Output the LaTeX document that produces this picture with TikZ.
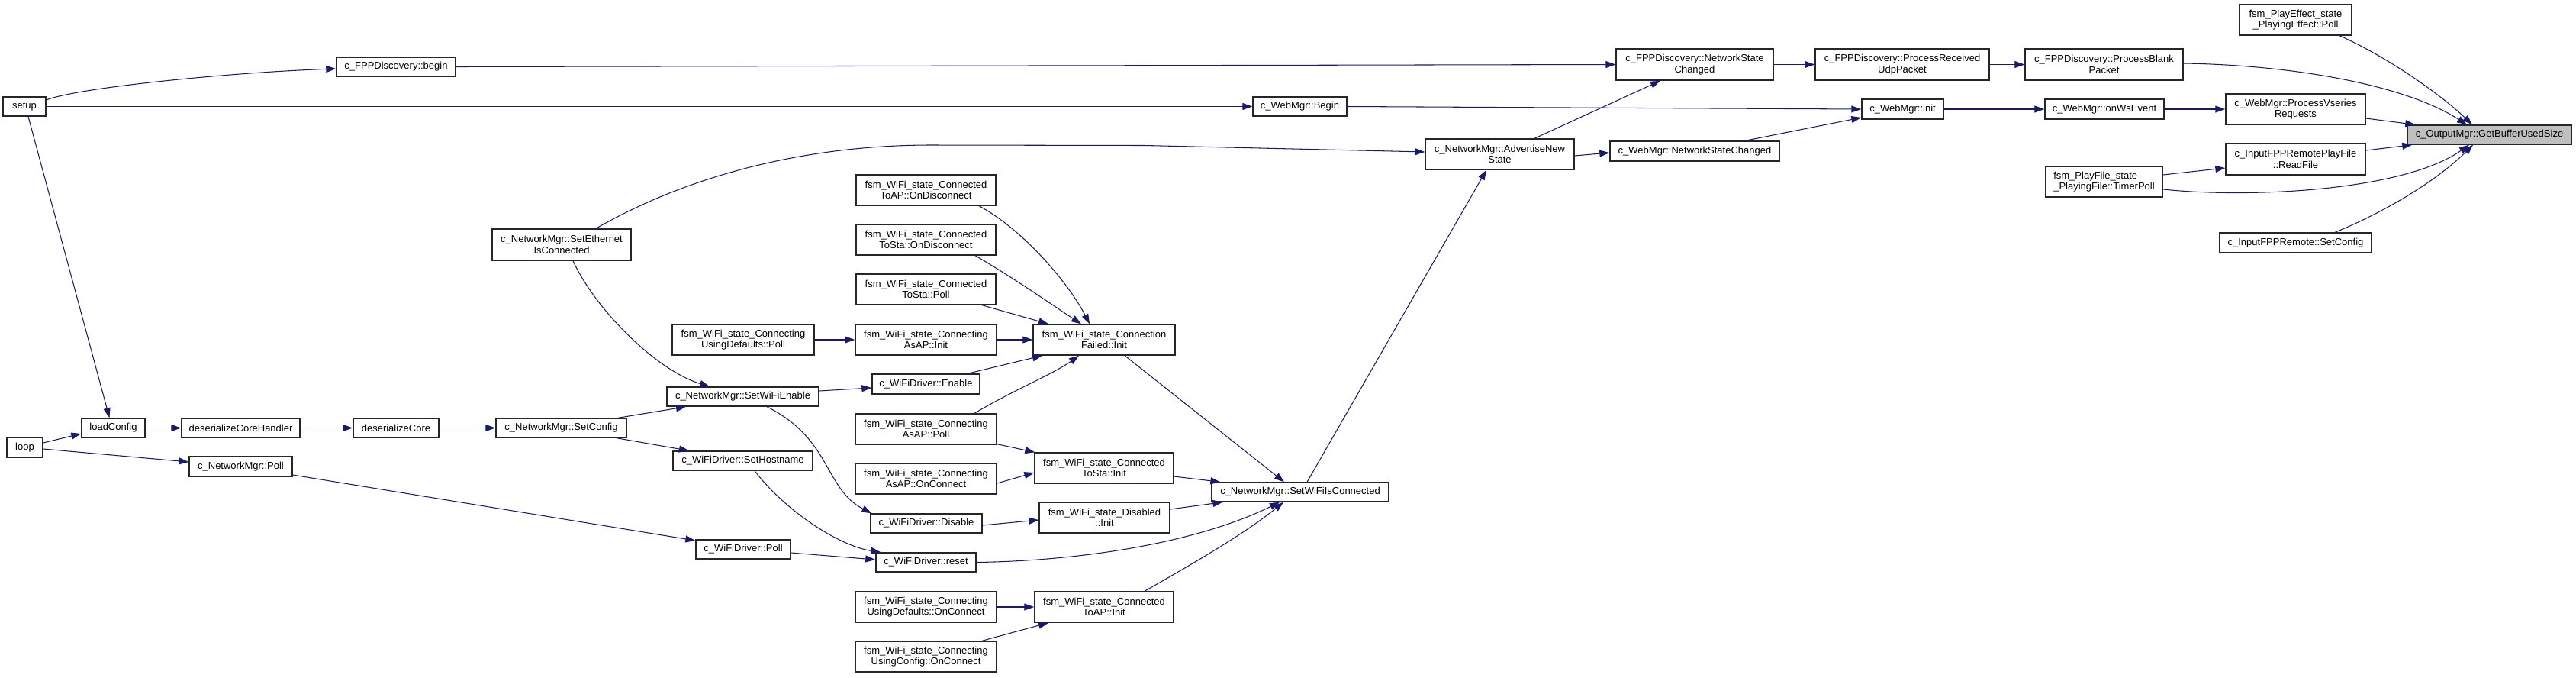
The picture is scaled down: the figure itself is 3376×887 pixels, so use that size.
\documentclass[tikz,border=0pt]{standalone}
\usepackage{fontspec}
\setmainfont{Liberation Sans}
\usetikzlibrary{arrows.meta}
\definecolor{mblue}{RGB}{25,25,112}
\definecolor{tgray}{RGB}{191,191,191}
\begin{document}
\begin{tikzpicture}[x=1pt,y=-1pt,
  box/.style={draw=black!85, line width=1.4pt, fill=white, inner sep=0pt, align=center, font=\fontsize{13}{14.5}\selectfont},
  edge/.style={draw=mblue, line width=1.05pt, -{Triangle[length=13pt,width=9pt]}}]
\fill[white] (0,0) rectangle (3376,887);
\useasboundingbox (0,0) rectangle (3376,887);
% nodes
\node[box, minimum width=56, minimum height=25] (setup) at (32,139.5) {setup};
\node[box, minimum width=156, minimum height=25] (fppbegin) at (519,87.5) {c\_FPPDiscovery::begin};
\node[box, minimum width=47, minimum height=26] (loop) at (32.5,586) {loop};
\node[box, minimum width=83, minimum height=25] (loadConfig) at (148.5,560.5) {loadConfig};
\node[box, minimum width=155, minimum height=25] (dch) at (315.5,560.5) {deserializeCoreHandler};
\node[box, minimum width=112, minimum height=25] (dc) at (519,560.5) {deserializeCore};
\node[box, minimum width=171, minimum height=25] (setconfig) at (735.5,560.5) {c\_NetworkMgr::SetConfig};
\node[box, minimum width=135, minimum height=26] (nmpoll) at (315.5,611) {c\_NetworkMgr::Poll};
\node[box, minimum width=182, minimum height=41] (seteth) at (736,320.5) {c\_NetworkMgr::SetEthernet\\IsConnected};
\node[box, minimum width=199, minimum height=25] (setwifien) at (973.5,519.5) {c\_NetworkMgr::SetWiFiEnable};
\node[box, minimum width=183, minimum height=25] (sethost) at (973.5,603.5) {c\_WiFiDriver::SetHostname};
\node[box, minimum width=124, minimum height=25] (wdpoll) at (974,719.5) {c\_WiFiDriver::Poll};
\node[box, minimum width=186, minimum height=40] (udpoll) at (974,445) {fsm\_WiFi\_state\_Connecting\\UsingDefaults::Poll};
\node[box, minimum width=183, minimum height=40] (toapdisc) at (1213.5,249) {fsm\_WiFi\_state\_Connected\\ToAP::OnDisconnect};
\node[box, minimum width=183, minimum height=40] (tostadisc) at (1213.5,314) {fsm\_WiFi\_state\_Connected\\ToSta::OnDisconnect};
\node[box, minimum width=183, minimum height=40] (tostapoll) at (1213.5,379) {fsm\_WiFi\_state\_Connected\\ToSta::Poll};
\node[box, minimum width=185, minimum height=40] (asapinit) at (1213.5,445) {fsm\_WiFi\_state\_Connecting\\AsAP::Init};
\node[box, minimum width=141, minimum height=26] (enable) at (1213.5,503) {c\_WiFiDriver::Enable};
\node[box, minimum width=185, minimum height=40] (asappoll) at (1213.5,562) {fsm\_WiFi\_state\_Connecting\\AsAP::Poll};
\node[box, minimum width=185, minimum height=40] (asaponconn) at (1213.5,627) {fsm\_WiFi\_state\_Connecting\\AsAP::OnConnect};
\node[box, minimum width=146, minimum height=25] (disable) at (1214,685.5) {c\_WiFiDriver::Disable};
\node[box, minimum width=131, minimum height=25] (reset) at (1213.5,736.5) {c\_WiFiDriver::reset};
\node[box, minimum width=185, minimum height=40] (udonconn) at (1213.5,795) {fsm\_WiFi\_state\_Connecting\\UsingDefaults::OnConnect};
\node[box, minimum width=185, minimum height=40] (uconfonconn) at (1213.5,860) {fsm\_WiFi\_state\_Connecting\\UsingConfig::OnConnect};
\node[box, minimum width=186, minimum height=40] (cfinit) at (1447,445) {fsm\_WiFi\_state\_Connection\\Failed::Init};
\node[box, minimum width=182, minimum height=40] (tostainit) at (1447,613) {fsm\_WiFi\_state\_Connected\\ToSta::Init};
\node[box, minimum width=171, minimum height=40] (disinit) at (1447.5,678) {fsm\_WiFi\_state\_Disabled\\::Init};
\node[box, minimum width=182, minimum height=40] (toapinit) at (1447,795) {fsm\_WiFi\_state\_Connected\\ToAP::Init};
\node[box, minimum width=232, minimum height=25] (setwific) at (1704,644.5) {c\_NetworkMgr::SetWiFiIsConnected};
\node[box, minimum width=195, minimum height=40] (advert) at (1965.5,202) {c\_NetworkMgr::AdvertiseNew\\State};
\node[box, minimum width=123, minimum height=25] (webbegin) at (1703.5,139.5) {c\_WebMgr::Begin};
\node[box, minimum width=206, minimum height=41] (fppnsc) at (2221,84.5) {c\_FPPDiscovery::NetworkState\\Changed};
\node[box, minimum width=222, minimum height=26] (webnsc) at (2221,198) {c\_WebMgr::NetworkStateChanged};
\node[box, minimum width=107, minimum height=26] (webinit) at (2493.5,143) {c\_WebMgr::init};
\node[box, minimum width=228, minimum height=41] (procudp) at (2493,84.5) {c\_FPPDiscovery::ProcessReceived\\UdpPacket};
\node[box, minimum width=207, minimum height=41] (procblank) at (2757.5,84.5) {c\_FPPDiscovery::ProcessBlank\\Packet};
\node[box, minimum width=156, minimum height=26] (onws) at (2758,143) {c\_WebMgr::onWsEvent};
\node[box, minimum width=147, minimum height=40] (playeff) at (3008.5,26) {fsm\_PlayEffect\_state\\\_PlayingEffect::Poll};
\node[box, minimum width=183, minimum height=40] (vseries) at (3008.5,143) {c\_WebMgr::ProcessVseries\\Requests};
\node[box, minimum width=215, minimum height=25, fill=tgray] (gbus) at (3262.5,176.5) {c\_OutputMgr::GetBufferUsedSize};
\node[box, minimum width=183, minimum height=41] (readfile) at (3008.5,208.5) {c\_InputFPPRemotePlayFile\\::ReadFile};
\node[box, minimum width=153, minimum height=40, align=left] (timerpoll) at (2757.5,238) {fsm\_PlayFile\_state\\\_PlayingFile::TimerPoll};
\node[box, minimum width=199, minimum height=26] (irsetconfig) at (3008.5,318) {c\_InputFPPRemote::SetConfig};
% edges
\draw[edge] ([yshift=8.5pt]setup.east) .. controls (100,115) and (300,95) .. ([yshift=-2.5pt]fppbegin.west);
\draw[edge] (setup) -- (webbegin);
\draw[edge] ([xshift=5pt]setup.south) -- ([xshift=-5pt]loadConfig.north);
\draw[edge] ([yshift=6pt]loop.east) -- ([yshift=-7.5pt]loadConfig.west);
\draw[edge] ([yshift=-2pt]loop.east) -- ([yshift=6pt]nmpoll.west);
\draw[edge] (loadConfig) -- (dch);
\draw[edge] (dch) -- (dc);
\draw[edge] (dc) -- (setconfig);
\draw[edge] ([xshift=74.5pt]setconfig.north) -- ([xshift=-74.5pt]setwifien.south);
\draw[edge] ([xshift=72.5pt]setconfig.south) -- ([xshift=-70.5pt]sethost.north);
\draw[edge] ([yshift=-11pt]nmpoll.east) -- ([yshift=11.5pt]wdpoll.west);
\draw[edge] ([xshift=15pt]seteth.south) .. controls (780,405) and (860,485) .. ([xshift=-43.5pt]setwifien.north);
\draw[edge] ([xshift=45pt]seteth.north) .. controls (905,228) and (1060,190) .. (1220,190) -- (1500,190.5) -- ([yshift=3pt]advert.west);
\draw[edge] ([yshift=7.5pt]setwifien.east) -- ([yshift=-5pt]enable.west);
\draw[edge] ([xshift=31.5pt]setwifien.south) .. controls (1090,575) and (1080,640) .. ([xshift=2pt]disable.north west);
\draw[edge] ([xshift=15.5pt]sethost.south) .. controls (1030,670) and (1100,715) .. ([xshift=7pt]reset.north west);
\draw[edge] ([yshift=-4.5pt]wdpoll.east) -- ([yshift=3.5pt]reset.west);
\draw[edge] (udpoll) -- (asapinit);
\draw[edge] (asapinit) -- (cfinit);
\draw[edge] ([xshift=69.5pt]toapdisc.south) .. controls (1340,300) and (1400,370) .. ([xshift=-19pt]cfinit.north);
\draw[edge] ([xshift=64.5pt]tostadisc.south) .. controls (1330,365) and (1380,400) .. ([xshift=-30pt]cfinit.north);
\draw[edge] ([xshift=73.5pt]tostapoll.south) -- ([xshift=-73pt]cfinit.north);
\draw[edge] ([xshift=54.5pt]enable.north) -- ([xshift=-81pt]cfinit.south);
\draw[edge] ([xshift=63.5pt]asappoll.north) .. controls (1330,510) and (1380,490) .. ([xshift=-33pt]cfinit.south);
\draw[edge] ([yshift=1pt]asappoll.south east) -- ([xshift=1pt]tostainit.north west);
\draw[edge] ([yshift=-6pt]asaponconn.east) -- ([yshift=-6pt]tostainit.west);
\draw[edge] ([yshift=-2.5pt]disable.east) -- ([yshift=-3pt]disinit.west);
\draw[edge] (udonconn) -- (toapinit);
\draw[edge] ([xshift=73.5pt]uconfonconn.north) -- ([xshift=-73pt]toapinit.south);
\draw[edge] ([xshift=27pt]cfinit.south) -- ([xshift=-21pt]setwific.north);
\draw[edge] ([yshift=-11pt]tostainit.east) -- ([xshift=12pt]setwific.north west);
\draw[edge] ([yshift=11pt]disinit.east) -- ([xshift=15pt]setwific.south west);
\draw[edge] (reset.east) .. controls (1400,735) and (1560,715) .. ([xshift=-27pt]setwific.south);
\draw[edge] ([xshift=53pt]toapinit.north) .. controls (1560,740) and (1630,700) .. ([xshift=-22pt]setwific.south);
\draw[edge] ([xshift=9pt]setwific.north) -- ([xshift=-17.5pt]advert.south);
\draw[edge] ([xshift=45.5pt]advert.north) -- ([xshift=-45pt]fppnsc.south);
\draw[edge] ([yshift=-2pt]advert.east) -- ([yshift=-2pt]webnsc.west);
\draw[edge] (fppbegin.east) -- (fppnsc.west);
\draw[edge] (webbegin.east) -- (webinit.west);
\draw[edge] ([xshift=66pt]webnsc.north) -- ([yshift=-11pt]webinit.west);
\draw[edge] (fppnsc) -- (procudp);
\draw[edge] (procudp) -- (procblank);
\draw[edge] (webinit) -- (onws);
\draw[edge] (onws) -- (vseries);
\draw[edge] ([xshift=57.5pt]playeff.south) .. controls (3130,75) and (3200,125) .. ([xshift=-22.5pt]gbus.north);
\draw[edge] ([yshift=1.5pt]procblank.east) .. controls (3000,85) and (3150,110) .. ([xshift=-29.5pt]gbus.north);
\draw[edge] ([yshift=-12pt]vseries.east) -- ([xshift=11pt]gbus.north west);
\draw[edge] ([yshift=11.5pt]readfile.east) -- ([xshift=7pt]gbus.south west);
\draw[edge] ([yshift=9pt]timerpoll.east) -- ([yshift=-11.5pt]readfile.west);
\draw[edge] ([yshift=-10pt]timerpoll.east) .. controls (2950,260) and (3150,250) .. ([xshift=-26.5pt]gbus.south);
\draw[edge] ([xshift=51.5pt]irsetconfig.north) .. controls (3120,280) and (3190,240) .. ([xshift=-21.5pt]gbus.south);
\end{tikzpicture}
\end{document}
